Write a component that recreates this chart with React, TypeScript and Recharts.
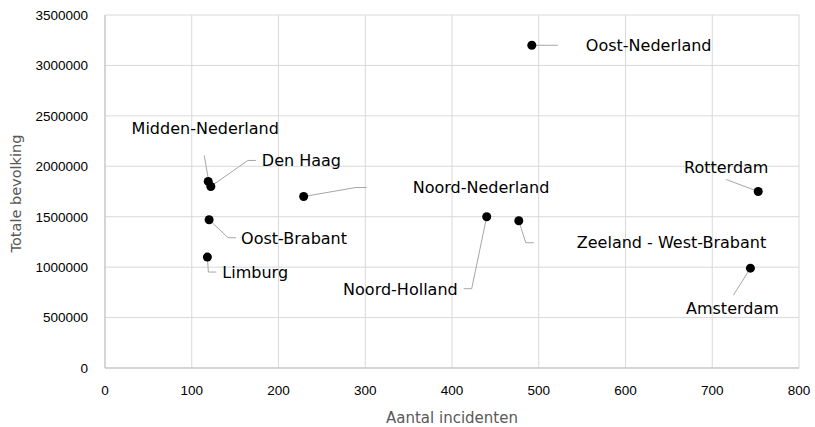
import { ScatterChart, Scatter, XAxis, YAxis, CartesianGrid } from "recharts";

document.body.style.margin = "0";

const regions = [
  "Oost-Nederland",
  "Midden-Nederland",
  "Den Haag",
  "Noord-Nederland",
  "Oost-Brabant",
  "Limburg",
  "Noord-Holland",
  "Zeeland - West-Brabant",
  "Rotterdam",
  "Amsterdam",
];
const incidents = [492, 119, 122, 229, 120, 118, 440, 477, 753, 744];
const population = [3200000, 1850000, 1800000, 1700000, 1470000, 1100000, 1500000, 1460000, 1750000, 990000];

const xTicks = [0, 100, 200, 300, 400, 500, 600, 700, 800];
const yTicks = [0, 500000, 1000000, 1500000, 2000000, 2500000, 3000000, 3500000];

const data = regions.map((name, i) => ({ name, x: incidents[i], y: population[i] }));

// leader line + label placement, in px relative to the point
type Callout = { path: number[][]; dx: number; dy: number; anchor: "start" | "middle" | "end" };
const callouts: Record<string, Callout> = {
  "Oost-Nederland": { path: [[4, 0], [26, 0]], dx: 54, dy: 0, anchor: "start" },
  "Midden-Nederland": { path: [[0, -3], [-4, -26]], dx: -3, dy: -53, anchor: "middle" },
  "Den Haag": { path: [[0, 0], [37, -26], [45, -26]], dx: 51, dy: -26, anchor: "start" },
  "Noord-Nederland": { path: [[0, 0], [52, -9], [63, -9]], dx: 109, dy: -9, anchor: "start" },
  "Oost-Brabant": { path: [[0, 0], [19, 18], [27, 18]], dx: 32, dy: 19, anchor: "start" },
  "Limburg": { path: [[0, 0], [1, 15], [9, 15]], dx: 15, dy: 15, anchor: "start" },
  "Noord-Holland": { path: [[0, 0], [-15, 72], [-23, 72]], dx: -29, dy: 73, anchor: "end" },
  "Zeeland - West-Brabant": { path: [[0, 0], [7, 22], [15, 22]], dx: 58, dy: 22, anchor: "start" },
  "Rotterdam": { path: [[0, 0], [-32, -12]], dx: -32, dy: -24, anchor: "middle" },
  "Amsterdam": { path: [[0, 0], [-17, 27]], dx: -18, dy: 40, anchor: "middle" },
};

const FONT = "'DejaVu Sans', sans-serif";
const TICK_FONT = "'Liberation Sans', Arial, sans-serif";

function Marker(props: any) {
  const { cx, cy, payload } = props;
  const c = callouts[payload.name];
  const pts = c.path.map(([dx, dy]) => `${cx + dx},${cy + dy}`).join(" ");
  return (
    <g>
      <polyline points={pts} fill="none" stroke="#a6a6a6" strokeWidth={1} />
      <circle cx={cx} cy={cy} r={4.5} fill="#000" />
      <text
        x={cx + c.dx}
        y={cy + c.dy}
        dy="0.35em"
        textAnchor={c.anchor}
        fontFamily={FONT}
        fontSize={16}
        fill="#000"
      >
        {payload.name}
      </text>
    </g>
  );
}

const tickStyle = { fontSize: 13.5, fill: "#000", fontFamily: TICK_FONT };

export default function App() {
  return (
    <ScatterChart width={815} height={427} margin={{ top: 15, right: 16, bottom: 0, left: 0 }}>
      <CartesianGrid stroke="#d9d9d9" />
      <XAxis
        type="number"
        dataKey="x"
        domain={[0, 800]}
        ticks={xTicks}
        interval={0}
        height={59}
        tick={tickStyle}
        tickLine={false}
        axisLine={{ stroke: "#bfbfbf" }}
        tickMargin={11}
        label={{
          content: ({ viewBox }: any) => (
            <text
              x={viewBox.x + viewBox.width / 2}
              y={viewBox.y + 50}
              dy="0.35em"
              textAnchor="middle"
              fontFamily={FONT}
              fontSize={15}
              fill="#595959"
            >
              Aantal incidenten
            </text>
          ),
        }}
      />
      <YAxis
        type="number"
        dataKey="y"
        domain={[0, 3500000]}
        ticks={yTicks}
        interval={0}
        width={105}
        tick={tickStyle}
        tickLine={false}
        axisLine={{ stroke: "#bfbfbf" }}
        tickMargin={11}
        label={{
          content: ({ viewBox }: any) => {
            const x = viewBox.x + 16;
            const y = viewBox.y + viewBox.height / 2 + 2;
            return (
              <text
                x={x}
                y={y}
                dy="0.35em"
                textAnchor="middle"
                transform={`rotate(-90 ${x} ${y})`}
                fontFamily={FONT}
                fontSize={14.5}
                fill="#595959"
              >
                Totale bevolking
              </text>
            );
          },
        }}
      />
      <Scatter data={data} shape={<Marker />} isAnimationActive={false} />
    </ScatterChart>
  );
}
